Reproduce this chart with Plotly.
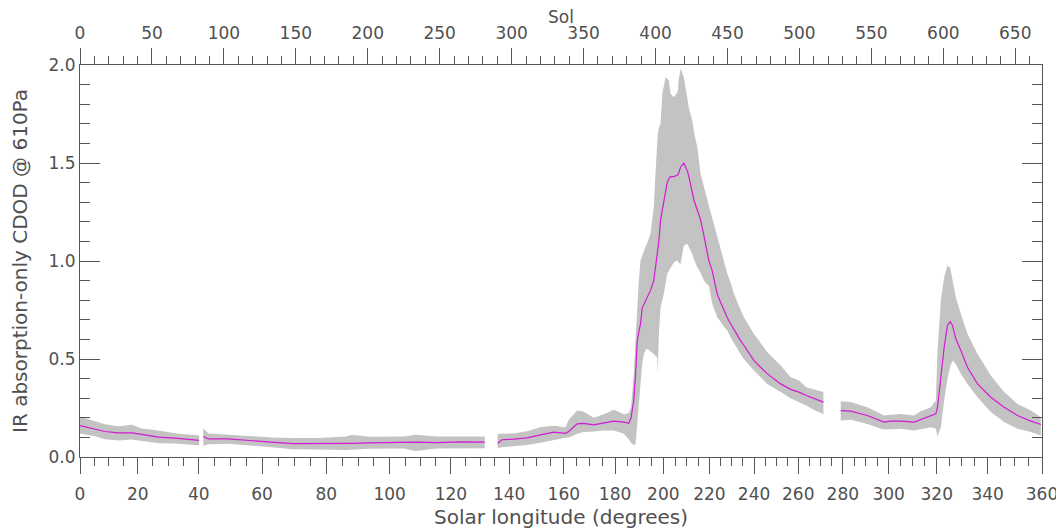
import math
import plotly.graph_objects as go

# ---------------- data (x in sols since Ls=0; None marks a data gap) ----------------
sol = [0, 10.4, 17.4, 26.7, 36, 42.9, 54.5, 66, 75.3, 82.8, None,
       85.7, 89.3, 103, 117, 133, 148, 166, 185, 189, 201, 225, 233, 248, 265, 281.3, None,
       290.3, 293.3, 301.4, 310.7, 320, 329.3, 337.4, 339.7, 345.5, 350, 357, 364, 371, 378,
       381.4, 383.0, 384.9, 386.1, 387.3, 388.4, 389.6, 390.7, 391.9, 393.0, 394.2, 396.5,
       398.8, 400.0, 401.2, 401.6, 402.3, 403.5, 404.7, 405.8, 407.0, 408.1, 409.3, 410.4,
       412.8, 415.1, 415.5, 416.2, 417.4, 419.7, 422.1, 423.2, 425.5, 426.7, 429.0, 431.3,
       433.6, 435.9, 437.1, 439.4, 442.9, 445.2, 447.5, 449.9, 452.2, 454.5, 459.1, 461.4,
       468.4, 477.7, 487.0, 493.9, 496.3, 499.7, 504.8, 510.1, 516.7, None,
       528.7, 535.7, 547.2, 556.5, 558.8, 563.5, 570.4, 579.7, 584.3, 591.3, 594.8, 596.0,
       598.3, 600.6, 602.9, 604.8, 606.4, 608.7, 612.2, 616.8, 623.8, 633.0, 642.3, 651.6,
       660.9, 667.8]

cdod_mean = [0.160, 0.144, 0.130, 0.123, 0.123, 0.115, 0.101, 0.096, 0.092, 0.085, None,
             0.105, 0.092, 0.092, 0.083, 0.076, 0.068, 0.068, 0.068, 0.070, 0.072, 0.075, 0.076, 0.073, 0.077, 0.076, None,
             0.070, 0.088, 0.091, 0.098, 0.113, 0.127, 0.121, 0.130, 0.169, 0.172, 0.164, 0.174, 0.183, 0.178,
             0.172, 0.200, 0.290, 0.420, 0.590, 0.640, 0.680, 0.760, 0.780, 0.800, 0.820, 0.850,
             0.900, 0.960, 1.030, 1.060, 1.100, 1.210, 1.260, 1.310, 1.360, 1.400, 1.420, 1.430,
             1.430, 1.440, 1.440, 1.450, 1.480, 1.500, 1.460, 1.430, 1.350, 1.310, 1.260, 1.210,
             1.130, 1.050, 1.000, 0.950, 0.830, 0.790, 0.747, 0.710, 0.680, 0.650, 0.594, 0.570,
             0.492, 0.424, 0.373, 0.345, 0.339, 0.331, 0.314, 0.297, 0.280, None,
             0.237, 0.234, 0.212, 0.183, 0.178, 0.183, 0.183, 0.178, 0.190, 0.207, 0.220, 0.254,
             0.407, 0.560, 0.671, 0.691, 0.671, 0.603, 0.543, 0.458, 0.373, 0.305, 0.254, 0.212,
             0.183, 0.166]

cdod_low = [0.120, 0.106, 0.091, 0.084, 0.089, 0.081, 0.070, 0.069, 0.065, 0.060, None,
            0.057, 0.065, 0.068, 0.060, 0.050, 0.040, 0.038, 0.036, 0.040, 0.042, 0.044, 0.030, 0.043, 0.045, 0.045, None,
            0.046, 0.050, 0.056, 0.061, 0.073, 0.088, 0.098, 0.100, 0.118, 0.127, 0.130, 0.135, 0.135, 0.118,
            0.090, 0.070, 0.062, 0.064, 0.169, 0.254, 0.373, 0.475, 0.526, 0.545, 0.552, 0.540,
            0.526, 0.515, 0.509, 0.424, 0.628, 0.764, 0.800, 0.833, 0.880, 0.935, 0.950, 0.968,
            0.994, 1.003, 1.000, 0.990, 0.986, 1.079, 1.088, 1.070, 1.037, 1.010, 0.968, 0.940,
            0.901, 0.880, 0.875, 0.782, 0.713, 0.690, 0.665, 0.645, 0.610, 0.580, 0.526, 0.500,
            0.441, 0.373, 0.331, 0.300, 0.288, 0.280, 0.263, 0.240, 0.220, None,
            0.186, 0.190, 0.168, 0.144, 0.140, 0.141, 0.144, 0.135, 0.144, 0.152, 0.145, 0.105,
            0.152, 0.288, 0.400, 0.460, 0.492, 0.474, 0.425, 0.373, 0.305, 0.229, 0.178, 0.144,
            0.127, 0.110]

cdod_high = [0.205, 0.181, 0.167, 0.157, 0.164, 0.145, 0.135, 0.121, 0.114, 0.110, None,
             0.147, 0.120, 0.114, 0.107, 0.100, 0.097, 0.097, 0.104, 0.114, 0.103, 0.105, 0.114, 0.104, 0.105, 0.105, None,
             0.118, 0.118, 0.120, 0.132, 0.152, 0.160, 0.152, 0.190, 0.237, 0.232, 0.200, 0.218, 0.241, 0.218,
             0.225, 0.254, 0.424, 0.600, 0.764, 0.900, 1.003, 1.030, 1.050, 1.071, 1.090, 1.139,
             1.275, 1.450, 1.632, 1.650, 1.680, 1.700, 1.853, 1.900, 1.938, 1.930, 1.921, 1.853,
             1.836, 1.860, 1.870, 1.930, 1.981, 1.938, 1.836, 1.780, 1.717, 1.660, 1.581, 1.445,
             1.380, 1.309, 1.280, 1.220, 1.120, 1.054, 1.000, 0.935, 0.890, 0.833, 0.750, 0.713,
             0.628, 0.535, 0.467, 0.407, 0.400, 0.390, 0.356, 0.345, 0.331, None,
             0.285, 0.280, 0.254, 0.220, 0.212, 0.215, 0.220, 0.212, 0.234, 0.254, 0.288, 0.543,
             0.798, 0.917, 0.977, 0.966, 0.901, 0.815, 0.731, 0.628, 0.526, 0.416, 0.331, 0.271,
             0.237, 0.203]

# axis ticks
ls_major = list(range(0, 361, 20))
ls_minor = [v for v in range(0, 361, 5) if v % 20 != 0]
sol_major = list(range(0, 651, 50))
y_major = [0.0, 0.5, 1.0, 1.5, 2.0]

# ---------------- Ls -> sol conversion (Mars orbit) for the bottom axis ----------------
SOLS_PER_YEAR = 668.6
ECC = 0.0934
LS_PERIHELION = 251.0


def _mean_anomaly(ls):
    nu = math.radians(ls - LS_PERIHELION)
    E = 2.0 * math.atan(math.sqrt((1 - ECC) / (1 + ECC)) * math.tan(nu / 2.0))
    return E - ECC * math.sin(E)


def ls_to_sol(ls):
    if ls >= 360:
        return SOLS_PER_YEAR
    d = (_mean_anomaly(ls) - _mean_anomaly(0.0)) % (2 * math.pi)
    return d / (2 * math.pi) * SOLS_PER_YEAR


# ---------------- split into continuous segments ----------------
segments = []
cur = []
for i, s in enumerate(sol):
    if s is None:
        if cur:
            segments.append(cur)
        cur = []
    else:
        cur.append(i)
if cur:
    segments.append(cur)

BAND = "#c3c3c3"
LINE = "#d21bd2"
AXC = "#555555"
TICKFONT = dict(family="DejaVu Sans", size=17, color="#505050")
TITLEFONT = dict(family="DejaVu Sans", size=20, color="#505050")
SOLFONT = dict(family="DejaVu Sans", size=17, color="#505050")

fig = go.Figure()
for seg in segments:
    xs = [sol[i] for i in seg] + [sol[i] for i in reversed(seg)]
    ys = [cdod_high[i] for i in seg] + [cdod_low[i] for i in reversed(seg)]
    fig.add_trace(go.Scatter(x=xs, y=ys, fill="toself", fillcolor=BAND,
                             line=dict(width=0, color=BAND), mode="lines",
                             hoverinfo="skip", showlegend=False, xaxis="x", yaxis="y"))

fig.add_trace(go.Scatter(x=sol, y=cdod_mean, mode="lines", connectgaps=False,
                         line=dict(color=LINE, width=1.2), showlegend=False,
                         xaxis="x2", yaxis="y"))

# the page body adds an 8px offset, so the figure is 16px smaller than the window
fig.update_layout(
    width=1056, height=522,
    margin=dict(l=72, r=22, t=57, b=73, autoexpand=False),
    paper_bgcolor="white", plot_bgcolor="white",
    font=TICKFONT,
    xaxis=dict(
        range=[0, SOLS_PER_YEAR], showgrid=False, zeroline=False, automargin=False,
        showline=True, linecolor=AXC, linewidth=1,
        ticks="outside", ticklen=16, tickcolor=AXC, tickwidth=1, ticklabelstandoff=6,
        tickmode="array", tickvals=[ls_to_sol(v) for v in ls_major],
        ticktext=[str(v) for v in ls_major],
        minor=dict(tickmode="array", tickvals=[ls_to_sol(v) for v in ls_minor],
                   ticks="outside", ticklen=8, tickcolor=AXC, tickwidth=1, showgrid=False),
        title=dict(text="Solar longitude (degrees)", standoff=6, font=TITLEFONT),
        tickfont=TICKFONT,
    ),
    xaxis2=dict(
        range=[0, SOLS_PER_YEAR], overlaying="x", side="top", anchor="y",
        showgrid=False, zeroline=False, automargin=False,
        showline=True, linecolor=AXC, linewidth=1,
        ticks="outside", ticklen=16, tickcolor=AXC, tickwidth=1, ticklabelstandoff=2,
        tickmode="array", tickvals=sol_major, ticktext=[str(v) for v in sol_major],
        minor=dict(dtick=10, tick0=0, ticks="outside", ticklen=8, tickcolor=AXC,
                   tickwidth=1, showgrid=False),
        tickfont=TICKFONT,
    ),
    yaxis=dict(
        range=[0, 2.0], showgrid=False, zeroline=False, automargin=False,
        showline=True, linecolor=AXC, linewidth=1, mirror="ticks",
        ticks="inside", ticklen=20, tickcolor=AXC, tickwidth=1,
        tickmode="array", tickvals=y_major, ticktext=["%.1f" % v for v in y_major],
        minor=dict(dtick=0.1, tick0=0, ticks="inside", ticklen=10, tickcolor=AXC,
                   tickwidth=1, showgrid=False),
        title=dict(text="IR absorption-only CDOD @ 610Pa", standoff=20, font=TITLEFONT),
        tickfont=TICKFONT,
    ),
    annotations=[dict(text="Sol", xref="paper", yref="paper", x=0.5, y=1.0,
                      xanchor="center", yanchor="middle", yshift=48,
                      showarrow=False, font=SOLFONT)],
)

fig.write_html("out.html")
